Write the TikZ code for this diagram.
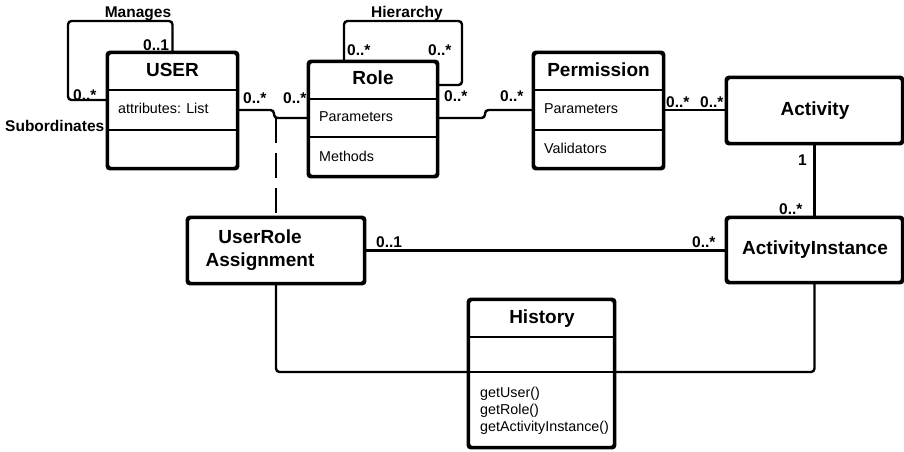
\documentclass[tikz,border=0pt]{standalone}
\usepackage{fontspec}
\setmainfont{Liberation Sans}
\begin{document}
\begin{tikzpicture}[x=1pt,y=-1pt,
  box/.style={draw=black,line width=2.4pt,rounded corners=3pt,inner sep=0pt,fill=white},
  conn/.style={draw=black,line width=2.4pt,rounded corners=3.5pt},
  divider/.style={draw=black,line width=2.4pt},
  title/.style={inner sep=0pt,anchor=base,font=\fontsize{19}{22}\selectfont\bfseries},
  mult/.style={inner sep=0pt,anchor=base west,font=\fontsize{15.5}{18}\selectfont\bfseries},
  rolename/.style={inner sep=0pt,anchor=base,font=\fontsize{15.5}{18}\selectfont\bfseries},
  member/.style={inner sep=0pt,anchor=base west,font=\fontsize{14.3}{16.7}\selectfont}]
\useasboundingbox (0,0) rectangle (904,451);

% ---- associations (drawn first so boxes sit on top) ----
\coordinate (mgTop) at (68,21);
\coordinate (hiTop) at (462,21);

% class boxes
\node[box,minimum width=129pt,minimum height=115pt] (user) at (172.5,110.5) {};
\node[box,minimum width=128pt,minimum height=114pt] (role) at (373,119) {};
\node[box,minimum width=129pt,minimum height=115pt] (perm) at (598.5,110.5) {};
\node[box,minimum width=175pt,minimum height=65pt] (act) at (814.5,110.5) {};
\node[box,minimum width=175pt,minimum height=64pt] (ai) at (814.5,250) {};
\node[box,minimum width=176pt,minimum height=65pt] (ur) at (276,250.5) {};
\node[box,minimum width=145pt,minimum height=147pt] (hist) at (541.5,373.5) {};

% compartment dividers
\draw[divider] (user.west |- 0,90) -- (user.east |- 0,90);
\draw[divider] (user.west |- 0,130) -- (user.east |- 0,130);
\draw[divider] (role.west |- 0,99) -- (role.east |- 0,99);
\draw[divider] (role.west |- 0,137) -- (role.east |- 0,137);
\draw[divider] (perm.west |- 0,90) -- (perm.east |- 0,90);
\draw[divider] (perm.west |- 0,130) -- (perm.east |- 0,130);
\draw[divider] (hist.west |- 0,337) -- (hist.east |- 0,337);
\draw[divider] (hist.west |- 0,372) -- (hist.east |- 0,372);

% Manages (self association of USER)
\draw[conn] (user.north) -- (user.north |- mgTop) -- (mgTop) -- (68,100) -- (user.west |- 0,100);
% Hierarchy (self association of Role)
\draw[conn] (role.north -| 344,0) -- (344,21) -- (hiTop) -- (462,85) -- (role.east |- 0,85);
% USER -- Role
\draw[conn] (user.east |- 0,110) -- (274,110) -- (274,118) -- (role.west |- 0,118);
% association class link to UserRole Assignment
\draw[line width=2.4pt,dash pattern=on 25pt off 10pt] (ur.north |- 0,118) -- (ur.north);
% Role -- Permission
\draw[conn] (role.east |- 0,118) -- (485,118) -- (485,110) -- (perm.west |- 0,110);
% Permission -- Activity
\draw[conn] (perm.east |- 0,110) -- (act.west |- 0,110);
% Activity -- ActivityInstance
\draw[conn] (act.south) -- (ai.north);
% UserRole Assignment -- ActivityInstance
\draw[conn] (ur.east) -- (ai.west |- ur.east);
% History links
\draw[conn] (ur.south) -- (ur.south |- 0,372) -- (hist.west |- 0,372);
\draw[conn] (ai.south) -- (ai.south |- 0,372) -- (hist.east |- 0,372);

% redraw boxes outlines on top of the connectors' ends
\foreach \n in {user,role,perm,act,ai,ur,hist}{
  \draw[line width=2.4pt,rounded corners=3pt] (\n.north west) rectangle (\n.south east);
}

% ---- class names ----
\node[title] (tUser) at (172.5,76) {USER};
\node[title] (tRole) at (373,84) {Role};
\node[title] (tPerm) at (598.5,76) {Permission};
\node[title] (tAct) at (815,115) {Activity};
\node[title] (tAi) at (815,254) {ActivityInstance};
\node[title] (tUr1) at (260,243) {UserRole};
\node[title] (tUr2) at (260,266) {Assignment};
\node[title] (tHist) at (542,323) {History};

% ---- members ----
\node[member] (mUser) at (118,113) {attributes: List};
\node[member] (mRoleP) at (319,121) {Parameters};
\node[member] (mRoleM) at (319,161) {Methods};
\node[member] (mPermP) at (544,113) {Parameters};
\node[member] (mPermV) at (544,153) {Validators};
\node[member] (mH1) at (480,397.5) {getUser()};
\node[member] (mH2) at (480,414) {getRole()};
\node[member] (mH3) at (480,431) {getActivityInstance()};

% ---- role names ----
\node[rolename] (lManages) at (138,17) {Manages};
\node[mult] (lSub) at (5,131) {Subordinates};
\node[rolename] (lHier) at (407,17) {Hierarchy};

% ---- multiplicities ----
\node[mult] (m1) at (143,50) {0..1};
\node[mult] (m2) at (73,100) {0..*};
\node[mult] (m3) at (243,103) {0..*};
\node[mult] (m4) at (283,103) {0..*};
\node[mult] (m5) at (347,55) {0..*};
\node[mult] (m6) at (428,55) {0..*};
\node[mult] (m7) at (444,101) {0..*};
\node[mult] (m8) at (500,101) {0..*};
\node[mult] (m9) at (666,107) {0..*};
\node[mult] (m10) at (700,107) {0..*};
\node[mult] (m11) at (798,165) {1};
\node[mult] (m12) at (779,214) {0..*};
\node[mult] (m13) at (376,247) {0..1};
\node[mult] (m14) at (692,247) {0..*};
\end{tikzpicture}
\end{document}
